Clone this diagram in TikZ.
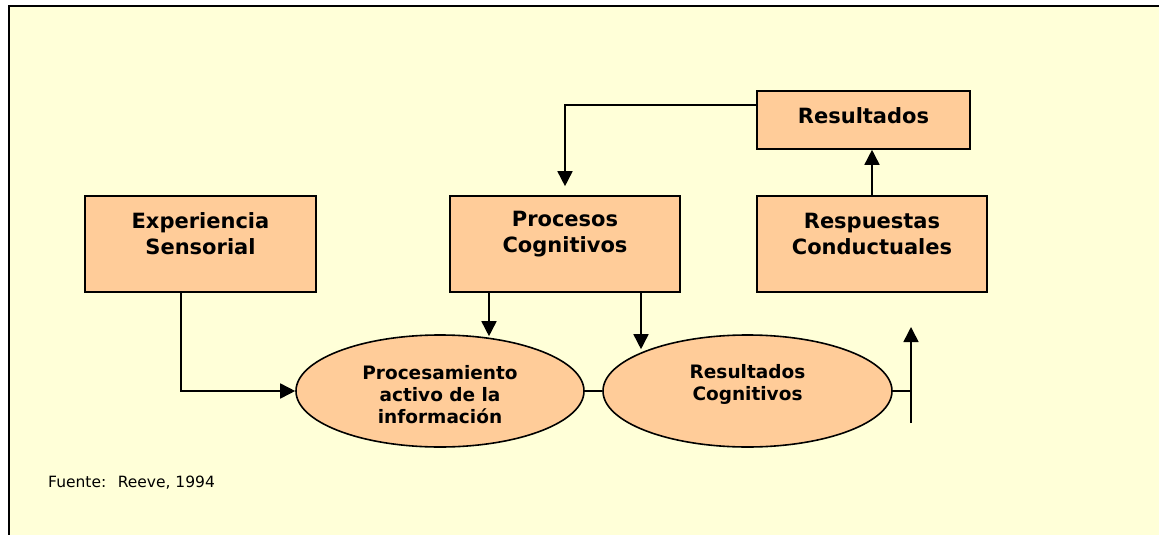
\documentclass[tikz,border=0pt]{standalone}
\usepackage{fontspec}
\setmainfont{DejaVu Sans}
\usetikzlibrary{shapes.geometric,arrows.meta,calc}
\definecolor{paper}{HTML}{FFFFD8}
\definecolor{peach}{HTML}{FFCC99}
\begin{document}
\begin{tikzpicture}[x=1pt,y=-1pt,
  box/.style={draw=black,line width=1.6pt,fill=peach,rectangle,inner sep=0pt},
  oval/.style={draw=black,line width=1.6pt,fill=peach,ellipse,inner sep=0pt,
    minimum width=288pt,minimum height=112pt},
  boxtext/.style={font=\fontsize{21}{26}\selectfont\bfseries,align=center,inner sep=0pt},
  ovaltext/.style={font=\fontsize{18.5}{22}\selectfont\bfseries,align=center,inner sep=0pt},
  link/.style={draw=black,line width=1.6pt},
  arr/.style={link,-{Triangle[length=15pt,width=15pt]}}]
% page and framed paper
\useasboundingbox (0,0) rectangle (1159,535);
\fill[white] (0,0) rectangle (1159,535);
\fill[paper] (9,6) rectangle (1159,535);
\draw[line width=2.4pt] (9,535) -- (9,6) -- (1159,6);

% boxes
\node[box,minimum width=231pt,minimum height=96pt] (exp) at (200.5,244) {};
\node[boxtext] (expt) at ($(exp)+(0,-10)$) {Experiencia\\Sensorial};
\node[box,minimum width=230pt,minimum height=96pt] (proc) at (565,244) {};
\node[boxtext] (proct) at ($(proc)+(0,-10)$) {Procesos\\Cognitivos};
\node[box,minimum width=230pt,minimum height=96pt] (resp) at (872,244) {};
\node[boxtext] (respt) at ($(resp)+(0,-10)$) {Respuestas\\Conductuales};
\node[box,minimum width=213pt,minimum height=58pt] (res) at (863.5,120) {};
\node[boxtext] (rest) at ($(res)+(0,-4)$) {Resultados};

% ellipses
\node[oval] (pa) at (440,391) {};
\node[ovaltext] (pat) at ($(pa)+(0,4)$) {Procesamiento\\activo de la\\información};
\node[oval,minimum width=289pt] (rc) at (747.5,391) {};
\node[ovaltext] (rct) at ($(rc)+(0,-7)$) {Resultados\\Cognitivos};

% source note
\node[anchor=west,font=\fontsize{15.5}{18}\selectfont,inner sep=0pt] (src) at (48,483) {Fuente:~ Reeve, 1994};

% connectors
\coordinate (xe) at (181,0);
\coordinate (xp) at (489,0);
\coordinate (xr) at (641,0);
\coordinate (out) at (911,391);
\coordinate (outlo) at (911,423);
\coordinate (outhi) at (911,327);

\draw[arr] (exp.south -| xe) |- (pa.west);
\draw[arr] (proc.south -| xp) -- ($(xp |- pa.north)+(0,2)$);
\draw[arr] (proc.south -| xr) -- ($(xr |- rc.north)+(0,15)$);
\draw[link] (pa.east) -- (rc.west);
\draw[link] (rc.east) -- (out);
\draw[arr] (outlo) -- (outhi);
\draw[arr] (resp.north) -- (resp.north |- res.south);
\draw[arr,shorten >=9pt] ($(res.west)+(0,-15)$) -| (proc.north);
\end{tikzpicture}
\end{document}
